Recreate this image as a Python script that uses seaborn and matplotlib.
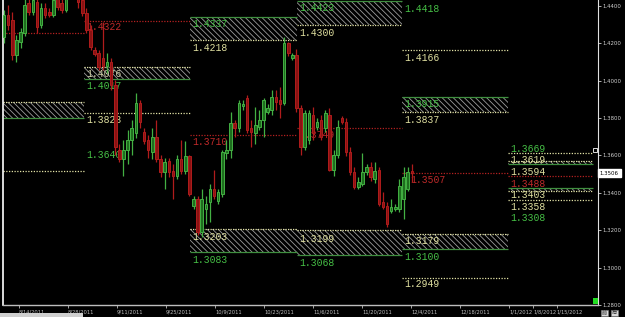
import numpy as np
import pandas as pd
import matplotlib
matplotlib.use("Agg")
import matplotlib.pyplot as plt
import matplotlib.transforms as mtransforms
from matplotlib.patches import Rectangle
import seaborn as sns

# ---------------- data (EUR/USD daily candles) ----------------
opens = [1.4235, 1.4352, 1.4325, 1.4139, 1.4208, 1.4256, 1.4416, 1.4368, 1.4421, 1.4299,
         1.4389, 1.4368, 1.4352, 1.4443, 1.4416, 1.4379, 1.4459, 1.4512, 1.4475, 1.4432,
         1.4363, 1.4272, 1.4165, 1.4149, 1.4123, 1.4080, 1.4101, 1.3979, 1.3632, 1.3579,
         1.3632, 1.3685, 1.3723, 1.3883, 1.3728, 1.3685, 1.3621, 1.3701, 1.3579, 1.3509,
         1.3568, 1.3515, 1.3488, 1.3579, 1.3515, 1.3595, 1.3328, 1.3365, 1.3189, 1.3312,
         1.3349, 1.3419, 1.3355, 1.3392, 1.3616, 1.3632, 1.3776, 1.3749, 1.3867, 1.3909,
         1.3749, 1.3723, 1.3755, 1.3792, 1.3835, 1.3845, 1.3915, 1.3899, 1.3883, 1.4203,
         1.4123, 1.4139, 1.3856, 1.3648, 1.3685, 1.3819, 1.3755, 1.3792, 1.3749, 1.3819,
         1.3525, 1.3605, 1.3803, 1.3781, 1.3621, 1.3509, 1.3429, 1.3445, 1.3509, 1.3536,
         1.3472, 1.3525, 1.3349, 1.3328, 1.3301, 1.3312, 1.3312, 1.3365, 1.3419, 1.3515]
highs = [1.4379, 1.4405, 1.4368, 1.4245, 1.4283, 1.4459, 1.4459, 1.4485, 1.4459, 1.4416,
         1.4416, 1.4389, 1.4475, 1.4485, 1.4448, 1.4475, 1.4539, 1.4539, 1.4512, 1.4459,
         1.4389, 1.4299, 1.4181, 1.4165, 1.4315, 1.4149, 1.4123, 1.4005, 1.3659, 1.3685,
         1.3739, 1.3792, 1.3936, 1.3899, 1.3749, 1.3712, 1.3749, 1.3792, 1.3605, 1.3589,
         1.3589, 1.3552, 1.3605, 1.3685, 1.3675, 1.3605, 1.3381, 1.3381, 1.3419, 1.3381,
         1.3445, 1.3525, 1.3419, 1.3632, 1.3685, 1.3835, 1.3792, 1.3899, 1.3899, 1.3925,
         1.3792, 1.3861, 1.3845, 1.3909, 1.3877, 1.3952, 1.3952, 1.3968, 1.4235, 1.4208,
         1.4149, 1.4171, 1.3872, 1.3845, 1.3845, 1.3861, 1.3803, 1.3819, 1.3845, 1.3856,
         1.3632, 1.3792, 1.3813, 1.3803, 1.3643, 1.3536, 1.3483, 1.3616, 1.3552, 1.3563,
         1.3563, 1.3536, 1.3403, 1.3349, 1.3365, 1.3339, 1.3472, 1.3536, 1.3536, 1.3552]
lows = [1.4203, 1.4272, 1.4112, 1.4101, 1.4176, 1.4240, 1.4352, 1.4352, 1.4256, 1.4283,
        1.4336, 1.4341, 1.4341, 1.4379, 1.4363, 1.4368, 1.4448, 1.4459, 1.4389, 1.4347,
        1.4256, 1.4165, 1.4133, 1.4059, 1.4059, 1.4043, 1.3952, 1.3605, 1.3563, 1.3488,
        1.3552, 1.3605, 1.3696, 1.3749, 1.3659, 1.3589, 1.3579, 1.3563, 1.3483, 1.3419,
        1.3483, 1.3365, 1.3472, 1.3499, 1.3499, 1.3381, 1.3312, 1.3173, 1.3163, 1.3232,
        1.3243, 1.3365, 1.3339, 1.3376, 1.3579, 1.3589, 1.3701, 1.3728, 1.3845, 1.3723,
        1.3648, 1.3659, 1.3739, 1.3701, 1.3824, 1.3819, 1.3845, 1.3803, 1.3872, 1.4133,
        1.4112, 1.3835, 1.3605, 1.3632, 1.3659, 1.3685, 1.3739, 1.3685, 1.3728, 1.3515,
        1.3488, 1.3589, 1.3771, 1.3595, 1.3493, 1.3419, 1.3419, 1.3435, 1.3493, 1.3461,
        1.3451, 1.3328, 1.3312, 1.3216, 1.3291, 1.3301, 1.3296, 1.3259, 1.3408, 1.3456]
closes = [1.4352, 1.4299, 1.4139, 1.4219, 1.4261, 1.4405, 1.4368, 1.4432, 1.4288, 1.4389,
          1.4352, 1.4352, 1.4432, 1.4395, 1.4379, 1.4443, 1.4512, 1.4485, 1.4421, 1.4363,
          1.4272, 1.4181, 1.4144, 1.4075, 1.4080, 1.4101, 1.3979, 1.3648, 1.3579, 1.3632,
          1.3685, 1.3749, 1.3883, 1.3781, 1.3675, 1.3632, 1.3701, 1.3579, 1.3509, 1.3563,
          1.3509, 1.3488, 1.3579, 1.3515, 1.3595, 1.3392, 1.3365, 1.3189, 1.3365, 1.3339,
          1.3419, 1.3381, 1.3403, 1.3621, 1.3632, 1.3776, 1.3749, 1.3883, 1.3877, 1.3739,
          1.3728, 1.3765, 1.3792, 1.3899, 1.3856, 1.3915, 1.3888, 1.3877, 1.4203, 1.4149,
          1.4139, 1.3856, 1.3648, 1.3829, 1.3829, 1.3723, 1.3781, 1.3701, 1.3829, 1.3525,
          1.3605, 1.3755, 1.3781, 1.3621, 1.3509, 1.3429, 1.3456, 1.3509, 1.3536, 1.3483,
          1.3515, 1.3339, 1.3323, 1.3232, 1.3323, 1.3323, 1.3435, 1.3483, 1.3509, 1.3506]

date_tick_bars = [3.6, 15.5, 27.4, 39.3, 51.2, 63.1, 75.0, 86.9, 98.8, 110.7, 122.6, 128.4, 134.2]
date_tick_labels = ["8/14/2011", "8/28/2011", "9/11/2011", "9/25/2011", "10/9/2011",
                    "10/23/2011", "11/6/2011", "11/20/2011", "12/4/2011", "12/18/2011",
                    "1/1/2012", "1/8/2012", "1/15/2012"]
price_ticks = [1.28, 1.30, 1.32, 1.34, 1.36, 1.38, 1.40, 1.42, 1.44]
last_price = 1.3506

# weekly pivot segments (bar index boundaries)
seg_edges = [-0.25, 19.4, 45.1, 71.1, 96.6, 122.3, 143.0]

# single level lines: segment, price, kind
line_seg = [0, 0, 1, 1, 2, 3, 4, 4, 4, 5, 5, 5]
line_price = [1.4256, 1.3515, 1.4320, 1.3829, 1.3712, 1.3749, 1.4165, 1.3504, 1.2947,
              1.3616, 1.3488, 1.3360]
line_kind = ["r", "y", "r", "y", "r", "r", "y", "r", "y", "y", "r", "y"]

# hatched zones: segment, top, bottom, top border kind, bottom border kind
zone_seg = [0, 1, 2, 2, 3, 3, 4, 4, 5, 5]
zone_top = [1.3888, 1.4075, 1.4341, 1.3205, 1.4427, 1.3200, 1.3915, 1.3179, 1.3573, 1.3424]
zone_bot = [1.3803, 1.4011, 1.4219, 1.3083, 1.4299, 1.3067, 1.3835, 1.3099, 1.3552, 1.3408]
zone_top_kind = ["y", "y", "g", "y", "g", "y", "g", "y", "y", "g"]
zone_bot_kind = ["g", "g", "y", "g", "y", "g", "y", "g", "g", "y"]

# level labels: segment, text, price at top of text, kind
label_seg = [1, 1, 1, 1, 1, 2, 2, 2, 2, 2, 3, 3, 3, 3, 3, 4, 4, 4, 4, 4, 4, 4, 4,
             5, 5, 5, 5, 5, 5, 5]
label_text = ["1.4322", "1.4076", "1.4017", "1.3828", "1.3640",
              "1.4337", "1.4218", "1.3710", "1.3203", "1.3083",
              "1.4423", "1.4300", "1.3749", "1.3199", "1.3068",
              "1.4418", "1.4166", "1.3915", "1.3837", "1.3507", "1.3179", "1.3100", "1.2949",
              "1.3669", "1.3619", "1.3594", "1.3488", "1.3403", "1.3358", "1.3308"]
label_price = [1.4315, 1.4064, 1.4000, 1.3819, 1.3632,
               1.4331, 1.4203, 1.3701, 1.3189, 1.3067,
               1.4416, 1.4283, 1.3739, 1.3179, 1.3051,
               1.4411, 1.4149, 1.3904, 1.3819, 1.3493, 1.3168, 1.3083, 1.2938,
               1.3659, 1.3605, 1.3541, 1.3472, 1.3413, 1.3349, 1.3291]
label_kind = ["r", "w", "g", "y", "g",
              "g", "y", "r", "y", "g",
              "g", "y", "r", "y", "g",
              "g", "y", "g", "y", "r", "y", "g", "y",
              "g", "y", "y", "r", "y", "y", "g"]

# ---------------- styling ----------------
sns.set_theme(style="dark", rc={
    "axes.facecolor": "black", "figure.facecolor": "black",
    "axes.edgecolor": "white", "axes.grid": False,
    "xtick.color": "#bdbdbd", "ytick.color": "#cfcfcf",
    "xtick.bottom": True, "ytick.right": True,
    "hatch.linewidth": 0.6,
})

line_colors = {"r": "#b42020", "y": "#e2e2a6", "g": "#3f8f3f"}
text_colors = {"r": "#c02a2a", "y": "#e0e0a0", "g": "#46c046", "w": "#d0d0a8"}

df = pd.DataFrame({"open": opens, "high": highs, "low": lows, "close": closes})
df["bar"] = np.arange(len(df))
df["up"] = df["close"] >= df["open"]

fig = plt.figure(figsize=(6.25, 3.17), dpi=100)
ax = fig.add_axes([3 / 625, 12 / 317, 595 / 625, 305 / 317])
ax.set_facecolor("black")

# zones
for s, t, b, tk, bk in zip(zone_seg, zone_top, zone_bot, zone_top_kind, zone_bot_kind):
    x0, x1 = seg_edges[s], seg_edges[s + 1]
    ax.add_patch(Rectangle((x0, b), x1 - x0, t - b, facecolor="black",
                           edgecolor="#9c9c9c", hatch="\\" * 6, linewidth=0, zorder=1))
    for p, k in ((t, tk), (b, bk)):
        ls = "-" if k == "g" else (0, (1, 1))
        ax.hlines(p, x0, x1, colors=line_colors[k], linestyles=ls, linewidth=0.9, zorder=2)

# single lines
for s, p, k in zip(line_seg, line_price, line_kind):
    ax.hlines(p, seg_edges[s], seg_edges[s + 1], colors=line_colors[k],
              linestyles=(0, (1, 1.2)), linewidth=0.9, zorder=2)

# labels
for s, txt, p, k in zip(label_seg, label_text, label_price, label_kind):
    x = seg_edges[s] + 0.5
    if txt == "1.3507":
        x = 98.5
    ax.text(x, p, txt, color=text_colors[k], fontsize=7, family="Liberation Mono",
            va="top", ha="left", zorder=3)

# candles
green_face, green_edge = "#1e6e1e", "#43b043"
red_face, red_edge = "#8a1212", "#b01c1c"
wick_cols = np.where(df["up"], green_edge, red_edge)
ax.vlines(df["bar"], df["low"], df["high"], colors=wick_cols, linewidth=0.9, zorder=4)
body_bottom = df[["open", "close"]].min(axis=1)
body_h = (df["close"] - df["open"]).abs().clip(lower=0.0004)
ax.bar(df["bar"], body_h, bottom=body_bottom, width=0.62,
       color=np.where(df["up"], green_face, red_face),
       edgecolor=wick_cols, linewidth=0.7, zorder=5)

# axes
ax.set_xlim(-0.25, 144.2)
ax.set_ylim(1.2806, 1.4432)
ax.yaxis.tick_right()
ax.set_yticks(price_ticks)
ax.set_yticklabels([f"{p:.4f}" for p in price_ticks])
ax.set_xticks(date_tick_bars)
ax.set_xticklabels(date_tick_labels, ha="left")
ax.tick_params(axis="y", labelsize=3.9, length=2, pad=1.5, colors="#cfcfcf", width=0.6)
ax.tick_params(axis="x", labelsize=3.7, length=2, pad=1.5, colors="#bdbdbd", width=0.6)
ax.spines["top"].set_visible(False)
ax.spines["left"].set_color("white")
ax.spines["left"].set_linewidth(1.2)
ax.spines["right"].set_color("#e0e0e0")
ax.spines["right"].set_linewidth(0.8)
ax.spines["bottom"].set_color("#bdbdbd")
ax.spines["bottom"].set_linewidth(1.0)

# current price box
trans = mtransforms.blended_transform_factory(ax.transAxes, ax.transData)
ax.text(1.003, last_price, f"{last_price:.4f}", transform=trans, fontsize=3.9,
        color="black", va="center", ha="left",
        bbox=dict(boxstyle="square,pad=0.35", facecolor="white", edgecolor="white"),
        clip_on=False, zorder=6)

# small decorations
ax.add_patch(Rectangle((0.9916, 0.003), 0.0084, 0.02, transform=ax.transAxes,
                       facecolor="#22dd22", edgecolor="none", zorder=6, clip_on=False))
ax.add_patch(Rectangle((0.992, 0.503), 0.006, 0.012, transform=ax.transAxes,
                       facecolor="black", edgecolor="white", linewidth=0.6, zorder=6))
fig.patches.append(Rectangle((0, 0), 83 / 625, 4 / 317, transform=fig.transFigure,
                             facecolor="#cfcfcf", edgecolor="none"))
for x, ch in ((602 / 625, "前"), (612 / 625, "后")):
    fig.text(x, 1.5 / 317, ch, fontsize=3.6, color="#202020",
             family=["Noto Sans CJK SC", "DejaVu Sans"], ha="left", va="bottom",
             bbox=dict(boxstyle="square,pad=0.12", facecolor="#d8d8d8",
                       edgecolor="#808080", linewidth=0.4))

fig.savefig("out.png", dpi=100, facecolor="black")
